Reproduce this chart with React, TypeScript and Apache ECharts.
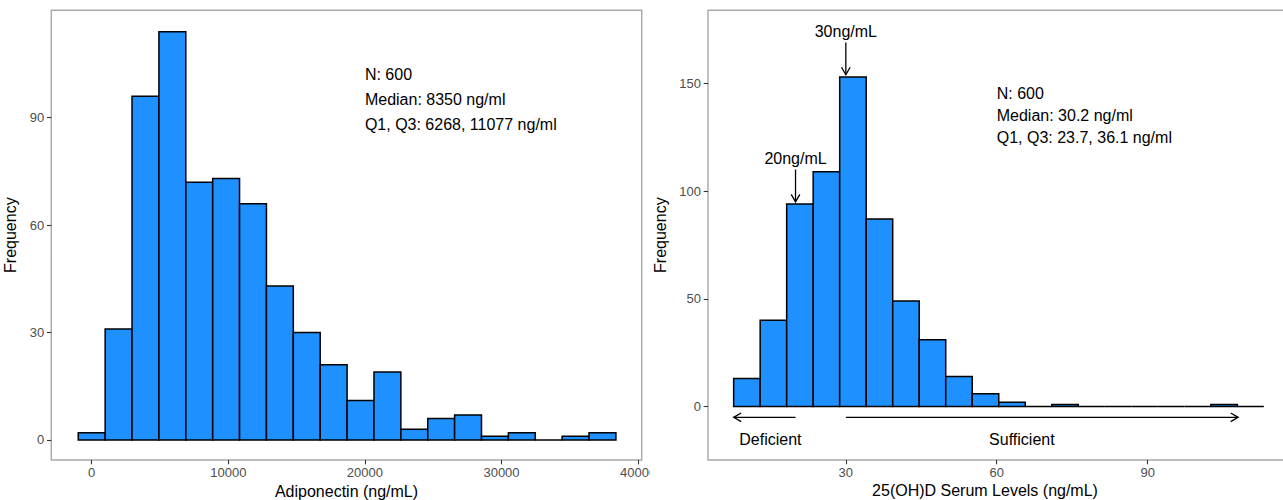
import React, { useEffect, useRef } from "react";
import * as echarts from "echarts";

// ---------- Data ----------
// Adiponectin histogram (20 bins)
const ADIPO_FIRST_EDGE = -984;
const ADIPO_BIN_WIDTH = 1968;
const ADIPO_COUNTS = [2, 31, 96, 114, 72, 73, 66, 43, 30, 21, 11, 19, 3, 6, 7, 1, 2, 0, 1, 2];
const ADIPO_X_TICKS = [0, 10000, 20000, 30000, 40000];
const ADIPO_Y_TICKS = [0, 30, 60, 90];
const ADIPO_STATS = ["N: 600", "Median: 8350 ng/ml", "Q1, Q3: 6268, 11077 ng/ml"];
const ADIPO_STATS_AT = [20000, 95];

// 25(OH)D histogram (20 bins)
const VITD_FIRST_EDGE = 7.7;
const VITD_BIN_WIDTH = 5.27;
const VITD_COUNTS = [13, 40, 94, 109, 153, 87, 49, 31, 14, 6, 2, 0, 1, 0, 0, 0, 0, 0, 1, 0];
const VITD_X_TICKS = [30, 60, 90];
const VITD_Y_TICKS = [0, 50, 100, 150];
const VITD_STATS = ["N: 600", "Median: 30.2 ng/ml", "Q1, Q3: 23.7, 36.1 ng/ml"];
const VITD_STATS_AT = [60, 135];

// cut-off annotations: label, x, label y, arrow start y, arrow end y
const VITD_CUTOFF_LABELS = ["20ng/mL", "30ng/mL"];
const VITD_CUTOFF_X = [20, 30];
const VITD_CUTOFF_TEXT_Y = [115, 174];
const VITD_CUTOFF_FROM_Y = [110, 169];
const VITD_CUTOFF_TO_Y = [95, 154];

// range arrows
const VITD_RANGE_LABELS = ["Deficient", "Sufficient"];
const VITD_RANGE_FROM_X = [20, 30];
const VITD_RANGE_TO_X = [7.7, 108];
const VITD_RANGE_Y = -5;
const VITD_RANGE_LABEL_X = [15, 65];
const VITD_RANGE_LABEL_Y = -15.5;

// ---------- Helpers ----------
const FONT = '"Liberation Sans", Arial, Helvetica, sans-serif';
const FILL = "#1E90FF";

function makeBins(first: number, w: number, counts: number[]) {
  return counts.map((c, i) => [first + i * w, first + (i + 1) * w, c]);
}

function histSeries(bins: number[][]) {
  return {
    type: "custom",
    silent: true,
    data: bins,
    encode: { x: [0, 1], y: 2 },
    renderItem: (params: any, api: any) => {
      const p0 = api.coord([api.value(0), 0]);
      const p1 = api.coord([api.value(1), api.value(2)]);
      return {
        type: "rect",
        shape: { x: p0[0], y: p1[1], width: p1[0] - p0[0], height: p0[1] - p1[1] },
        style: { fill: FILL, stroke: "#000", lineWidth: 1.5 },
      };
    },
  };
}

type TextItem = { x: number; y: number; text: string; align: string; lineHeight?: number };

function textSeries(items: TextItem[]) {
  return {
    type: "custom",
    silent: true,
    data: items.map((t) => [t.x, t.y]),
    renderItem: (params: any, api: any) => {
      const t = items[params.dataIndex];
      const p = api.coord([api.value(0), api.value(1)]);
      return {
        type: "text",
        x: p[0],
        y: p[1],
        style: {
          text: t.text,
          fill: "#000",
          fontSize: 16,
          fontFamily: FONT,
          align: t.align,
          textAlign: t.align,
          verticalAlign: "middle",
          textVerticalAlign: "middle",
          lineHeight: t.lineHeight || 19,
        },
      };
    },
  };
}

function arrowSeries(segs: number[][]) {
  return {
    type: "custom",
    silent: true,
    data: segs,
    renderItem: (params: any, api: any) => {
      const a = api.coord([api.value(0), api.value(1)]);
      const b = api.coord([api.value(2), api.value(3)]);
      const dx = b[0] - a[0];
      const dy = b[1] - a[1];
      const len = Math.sqrt(dx * dx + dy * dy) || 1;
      const ux = dx / len;
      const uy = dy / len;
      const L = 7.5;
      const H = 4.3;
      const bx = b[0] - ux * L;
      const by = b[1] - uy * L;
      return {
        type: "group",
        children: [
          { type: "line", shape: { x1: a[0], y1: a[1], x2: b[0], y2: b[1] }, style: { stroke: "#000", lineWidth: 1.3 } },
          {
            type: "polyline",
            shape: { points: [[bx - uy * H, by + ux * H], [b[0], b[1]], [bx + uy * H, by - ux * H]] },
            style: { stroke: "#000", lineWidth: 1.3, fill: null },
          },
        ],
      };
    },
  };
}

function valueAxis(min: number, max: number, ticks: number[], margin: number, name: string, nameGap: number) {
  return {
    type: "value",
    min,
    max,
    splitLine: { show: false },
    axisLine: { show: false, onZero: false },
    axisTick: { show: true, length: 4.3, lineStyle: { color: "#333", width: 1.1 }, customValues: ticks },
    axisLabel: {
      customValues: ticks,
      color: "#4d4d4d",
      fontSize: 13,
      fontFamily: FONT,
      margin,
      formatter: (v: number) => String(v),
    },
    name,
    nameLocation: "middle",
    nameGap,
    nameTextStyle: { fontSize: 16, color: "#000", fontFamily: FONT },
  };
}

function gridBox(left: number, width: number) {
  return {
    show: true,
    left,
    top: 10.3,
    width,
    height: 449.7,
    containLabel: false,
    outerBoundsMode: "none",
    borderColor: "#a8a8a8",
    borderWidth: 1.4,
    backgroundColor: "transparent",
  };
}

function leftOption() {
  const bins = makeBins(ADIPO_FIRST_EDGE, ADIPO_BIN_WIDTH, ADIPO_COUNTS);
  return {
    animation: false,
    grid: gridBox(51.3, 590.4),
    xAxis: valueAxis(-2958, 40264, ADIPO_X_TICKS, 6, "Adiponectin (ng/mL)", 21),
    yAxis: valueAxis(-5.6, 120, ADIPO_Y_TICKS, 7, "Frequency", 26),
    series: [
      histSeries(bins),
      textSeries([
        { x: ADIPO_STATS_AT[0], y: ADIPO_STATS_AT[1], text: ADIPO_STATS.join("\n"), align: "left", lineHeight: 25 },
      ]),
    ],
  };
}

function rightOption() {
  const bins = makeBins(VITD_FIRST_EDGE, VITD_BIN_WIDTH, VITD_COUNTS);
  const texts: TextItem[] = [
    { x: VITD_STATS_AT[0], y: VITD_STATS_AT[1], text: VITD_STATS.join("\n"), align: "left", lineHeight: 22 },
  ];
  VITD_CUTOFF_LABELS.forEach((l, i) =>
    texts.push({ x: VITD_CUTOFF_X[i], y: VITD_CUTOFF_TEXT_Y[i], text: l, align: "center" })
  );
  VITD_RANGE_LABELS.forEach((l, i) =>
    texts.push({ x: VITD_RANGE_LABEL_X[i], y: VITD_RANGE_LABEL_Y, text: l, align: "center" })
  );
  const arrows: number[][] = [];
  VITD_CUTOFF_X.forEach((x, i) => arrows.push([x, VITD_CUTOFF_FROM_Y[i], x, VITD_CUTOFF_TO_Y[i]]));
  VITD_RANGE_FROM_X.forEach((x, i) => arrows.push([x, VITD_RANGE_Y, VITD_RANGE_TO_X[i], VITD_RANGE_Y]));
  return {
    animation: false,
    grid: gridBox(58, 582.5),
    xAxis: valueAxis(2.6, 118.4, VITD_X_TICKS, 6, "", 22),
    yAxis: valueAxis(-24.8, 183.9, VITD_Y_TICKS, 7, "Frequency", 35),
    graphic: [
      {
        type: "text",
        x: 335,
        y: 490,
        silent: true,
        style: {
          text: "25(OH)D Serum Levels (ng/mL)",
          fill: "#000",
          fontSize: 16,
          fontFamily: FONT,
          align: "center",
          textAlign: "center",
          verticalAlign: "middle",
          textVerticalAlign: "middle",
        },
      },
    ],
    series: [histSeries(bins), arrowSeries(arrows), textSeries(texts)],
  };
}

export default function App() {
  const leftRef = useRef<HTMLDivElement>(null);
  const rightRef = useRef<HTMLDivElement>(null);
  useEffect(() => {
    const l = echarts.init(leftRef.current as HTMLDivElement, null, { renderer: "svg" });
    l.setOption(leftOption() as any);
    const r = echarts.init(rightRef.current as HTMLDivElement, null, { renderer: "svg" });
    r.setOption(rightOption() as any);
    return () => {
      l.dispose();
      r.dispose();
    };
  }, []);
  return (
    <div style={{ position: "fixed", left: 0, top: 0, width: 1283, height: 500, background: "#fff" }}>
      <div ref={leftRef} style={{ position: "absolute", left: 0, top: 0, width: 650, height: 500, overflow: "hidden" }} />
      <div ref={rightRef} style={{ position: "absolute", left: 650, top: 0, width: 633, height: 500, overflow: "hidden" }} />
    </div>
  );
}
